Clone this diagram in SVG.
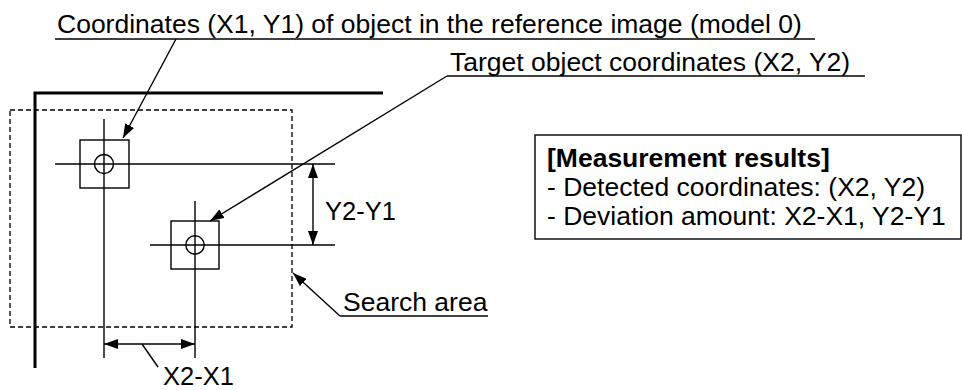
<svg xmlns="http://www.w3.org/2000/svg" width="962" height="390" viewBox="0 0 962 390">
<style>
.t{font-family:"Liberation Sans",Arial,sans-serif;font-size:26.5px;fill:#000}
.d{font-family:"Liberation Sans",Arial,sans-serif;font-size:25.5px;fill:#000}
.b{font-weight:bold}
.ln{stroke:#000;stroke-width:1.4;fill:none}
.thick{stroke:#000;stroke-width:3;fill:none}
.dash{stroke:#000;stroke-width:1.3;fill:none;stroke-dasharray:5 3}
</style>
<defs>
<marker id="ah" markerUnits="userSpaceOnUse" markerWidth="14" markerHeight="10" refX="14" refY="5" orient="auto-start-reverse">
<path d="M0,0 L14,5 L0,10 z" fill="#000"/>
</marker>
</defs>
<rect width="962" height="390" fill="#fff"/>
<g id="frame">
<path class="thick" d="M35,368 V93 H383"/>
</g>
<g id="search-area">
<rect class="dash" x="10" y="110" width="282" height="217"/>
</g>
<g id="object1">
<rect class="ln" x="80" y="140" width="49" height="48"/>
<circle class="ln" cx="104" cy="164" r="9.5"/>
<line class="ln" x1="55" y1="164" x2="335" y2="164"/>
<line class="ln" x1="104" y1="119" x2="104" y2="358"/>
</g>
<g id="object2">
<rect class="ln" x="171" y="221" width="48" height="48"/>
<circle class="ln" cx="195" cy="245" r="9.2"/>
<line class="ln" x1="150" y1="245" x2="335" y2="245"/>
<line class="ln" x1="195" y1="201" x2="195" y2="358"/>
</g>
<g id="label-ref">
<text class="t" x="57" y="33">Coordinates (X1, Y1) of object in the reference image (model 0)</text>
</g>
<g id="label-target">
<text class="t" x="450" y="71">Target object coordinates (X2, Y2)</text>
</g>
<g id="label-search">
<text class="t" x="343" y="311">Search area</text>
</g>
<g id="label-dy">
<text class="d" x="325" y="220">Y2-Y1</text>
</g>
<g id="label-dx">
<text class="d" x="163" y="385">X2-X1</text>
</g>
<g id="results">
<rect class="ln" x="535" y="135" width="426" height="104"/>
<text class="t b" x="547" y="167">[Measurement results]</text>
<text class="t" x="547" y="196">- Detected coordinates: (X2, Y2)</text>
<text class="t" x="547" y="225">- Deviation amount: X2-X1, Y2-Y1</text>
</g>
<g id="connectors">
<line class="ln" x1="55" y1="39" x2="815" y2="39"/>
<line class="ln" x1="176" y1="39" x2="123" y2="138" marker-end="url(#ah)"/>
<line class="ln" x1="447" y1="76" x2="865" y2="76"/>
<line class="ln" x1="447" y1="76" x2="210" y2="221" marker-end="url(#ah)"/>
<line class="ln" x1="488" y1="316" x2="340" y2="316"/>
<line class="ln" x1="340" y1="316" x2="293" y2="273" marker-end="url(#ah)"/>
<line class="ln" x1="313" y1="164" x2="313" y2="245" marker-start="url(#ah)" marker-end="url(#ah)"/>
<line class="ln" x1="104" y1="344" x2="195" y2="344" marker-start="url(#ah)" marker-end="url(#ah)"/>
<line class="ln" x1="142" y1="344" x2="158" y2="367"/>
</g>
</svg>
